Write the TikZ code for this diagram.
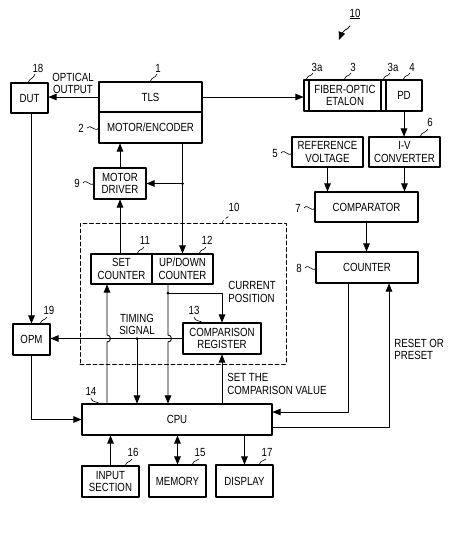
\documentclass[tikz,border=0pt]{standalone}
\usepackage{fontspec}
\setmainfont{Liberation Sans}[FakeStretch=0.82]
\usetikzlibrary{arrows}

\tikzset{
  blk/.style={draw, line width=1.1pt, inner sep=1pt, align=center, minimum height=30},
  txt/.style={inner sep=0pt, align=left},
  lead/.style={line width=0.6pt},
  frame/.style={draw, line width=0.9pt, dash pattern=on 4pt off 2.5pt, inner sep=0pt}
}

\begin{document}
\begin{tikzpicture}[line cap=round,line join=round,>=triangle 45,x=1pt,y=-1pt,
  font=\fontsize{11.8}{12.5}\selectfont, line width=0.85pt]
\useasboundingbox (0,0) rectangle (474,533);

% control unit frame
\node[frame, minimum width=206, minimum height=141] (ctl) at (183,293.5) {};

% blocks
\node[blk, minimum width=37] (dut) at (29.5,98) {DUT};
\node[blk, minimum width=103] (tls) at (150.5,97) {TLS};
\node[blk, minimum width=103, minimum height=31] (enc) at (150.5,127.5) {MOTOR/ENCODER};
\node[blk, minimum width=5, minimum height=31] (sa) at (306.5,95.5) {};
\node[blk, minimum width=72, minimum height=31] (eta) at (345,95.5) {FIBER-OPTIC\\ETALON};
\node[blk, minimum width=5, minimum height=31] (sb) at (383.5,95.5) {};
\node[blk, minimum width=36, minimum height=31] (pd) at (404,95.5) {PD};
\node[blk, minimum width=71] (ref) at (327.5,152) {REFERENCE\\VOLTAGE};
\node[blk, minimum width=71] (iv) at (404.5,152) {I-V\\CONVERTER};
\node[blk, minimum width=103] (comp) at (366.5,207) {COMPARATOR};
\node[blk, minimum width=102, minimum height=31] (cnt) at (367,267.5) {COUNTER};
\node[blk, minimum width=52, minimum height=31] (drv) at (120,183.5) {MOTOR\\DRIVER};
\node[blk, minimum width=61] (setc) at (121.5,269) {SET\\COUNTER};
\node[blk, minimum width=61] (udc) at (182.5,269) {UP/DOWN\\COUNTER};
\node[blk, minimum width=78, minimum height=31] (creg) at (222,338.5) {COMPARISON\\REGISTER};
\node[blk, minimum width=37, minimum height=31] (opm) at (31.5,339.5) {OPM};
\node[blk, minimum width=190, minimum height=31] (cpu) at (177,419.5) {CPU};
\node[blk, minimum width=57, minimum height=31] (inp) at (110.5,481.5) {INPUT\\SECTION};
\node[blk, minimum width=57, minimum height=32] (mem) at (177.5,481) {MEMORY};
\node[blk, minimum width=57, minimum height=32] (disp) at (244.5,481) {DISPLAY};

% texts
\node[txt, align=center] (optout) at (73,83.5) {OPTICAL\\OUTPUT};
\node[txt, align=center] (timing) at (137,324.5) {TIMING\\SIGNAL};
\node[txt, anchor=west] (curpos) at (228,292) {CURRENT\\POSITION};
\node[txt, anchor=west] (setval) at (227,384) {SET THE\\COMPARISON VALUE};
\node[txt, anchor=west] (reset) at (394,349.5) {RESET OR\\PRESET};

% reference numbers
\node (fig) at (355,14) {\underline{10}};
\draw[->] (350,26) .. controls (347,31) and (344,27) .. (339,40);
\node (n18) at (38,68) {18};
\draw[lead] (28,83) .. controls (30,77) and (33,80) .. (35,74);
\node (n1) at (158,68) {1};
\draw[lead] (150,82) .. controls (152,76) and (155,79) .. (157,74);
\node (n2) at (81,128) {2};
\draw[lead] (87,128) .. controls (91,123) and (94,133) .. (99,128);
\node (n3a) at (317,67) {3a};
\draw[lead] (306,80) .. controls (308,74) and (311,77) .. (313,73);
\node (n3) at (353,67) {3};
\draw[lead] (344,80) .. controls (346,74) and (349,77) .. (351,73);
\node (n3b) at (393,67) {3a};
\draw[lead] (383,80) .. controls (385,74) and (388,77) .. (390,73);
\node (n4) at (412,67) {4};
\draw[lead] (403,80) .. controls (405,74) and (408,77) .. (410,73);
\node (n6) at (430,122) {6};
\draw[lead] (420,137) .. controls (422,131) and (425,134) .. (428,129);
\node (n5) at (275,153) {5};
\draw[lead] (281,153) .. controls (285,148) and (288,158) .. (292,153);
\node (n7) at (298,208) {7};
\draw[lead] (304,208) .. controls (308,203) and (311,213) .. (315,208);
\node (n8) at (299,268) {8};
\draw[lead] (305,268) .. controls (309,263) and (312,273) .. (316,268);
\node (n9) at (77,183) {9};
\draw[lead] (83,183) .. controls (87,178) and (90,188) .. (94,183);
\node (n10) at (234,207) {10};
\draw[lead, dashed] (222,223) .. controls (224,217) and (227,220) .. (230,214);
\node (n11) at (145,240) {11};
\draw[lead] (137,254) .. controls (139,248) and (142,251) .. (144,247);
\node (n12) at (207,240) {12};
\draw[lead] (199,254) .. controls (201,248) and (204,251) .. (206,247);
\node (n13) at (194,310) {13};
\draw[lead] (194,317) .. controls (195,322) and (200,320) .. (203,323);
\node (n19) at (49,310) {19};
\draw[lead] (40,324) .. controls (42,318) and (45,321) .. (47,317);
\node (n14) at (91,391) {14};
\draw[lead] (91,398) .. controls (92,403) and (97,401) .. (100,404);
\node (n16) at (133,452) {16};
\draw[lead] (125,466) .. controls (127,460) and (130,463) .. (132,459);
\node (n15) at (200,452) {15};
\draw[lead] (192,465) .. controls (194,459) and (197,462) .. (199,459);
\node (n17) at (267,452) {17};
\draw[lead] (259,465) .. controls (261,459) and (264,462) .. (266,459);

% tap positions
\coordinate (tx1) at (107,0);
\coordinate (tx2) at (137,0);
\coordinate (tx3) at (168,0);
\coordinate (tx4) at (348,0);
\coordinate (tx5) at (389,0);

% optical path
\draw[->] (tls.west) -- (tls.west -| dut.east);
\draw[->] (tls.east) -- (tls.east -| sa.west);
\draw[->] (pd.south) -- (pd.south |- iv.north);
\draw[->] (ref.south) -- (ref.south |- comp.north);
\draw[->] (iv.south) -- (iv.south |- comp.north);
\draw[->] (comp.south) -- (comp.south |- cnt.north);
\draw[->] (tx4 |- cnt.south) |- ([yshift=7.5pt]cpu.east);
\draw[->] ([yshift=-7.5pt]cpu.east) -| (tx5 |- cnt.south);

% motor loop
\draw[->] (drv.north) -- (drv.north |- enc.south);
\draw[->] (udc.north |- enc.south) -- (udc.north);
\coordinate (mj) at (udc.north |- drv.east);
\fill (mj) circle (1.5pt);
\draw[->] (mj) -- (drv.east);
\draw[->] (drv.south |- setc.north) -- (drv.south);

% counters, register, cpu
\coordinate (uj) at (168,293);
\coordinate (h1) at (tx3 |- creg.west);
\coordinate (h2) at (tx1 |- creg.west);
\fill (uj) circle (1.5pt);
\draw[->] (tx3 |- udc.south) -- ([yshift=3.5pt]h1) arc[start angle=90,end angle=-90,radius=3.5pt] -- (tx3 |- cpu.north);
\draw[->] (uj) -| (creg.north);
\draw[->] (creg.west) -- (creg.west -| opm.east);
\coordinate (tj) at (tx2 |- creg.west);
\fill (tj) circle (1.5pt);
\draw[->] (tj) -- (tx2 |- cpu.north);
\draw[->] (tx1 |- cpu.north) -- ([yshift=-3.5pt]h2) arc[start angle=-90,end angle=90,radius=3.5pt] -- (tx1 |- setc.south);
\draw[->] (creg.south |- cpu.north) -- (creg.south);

% opm and peripherals
\draw[->] (opm.north |- dut.south) -- (opm.north);
\draw[->] (opm.south) |- (cpu.west);
\draw[->] (inp.north) -- (inp.north |- cpu.south);
\draw[<->] (mem.north) -- (mem.north |- cpu.south);
\draw[->] (disp.north |- cpu.south) -- (disp.north);
\end{tikzpicture}
\end{document}
